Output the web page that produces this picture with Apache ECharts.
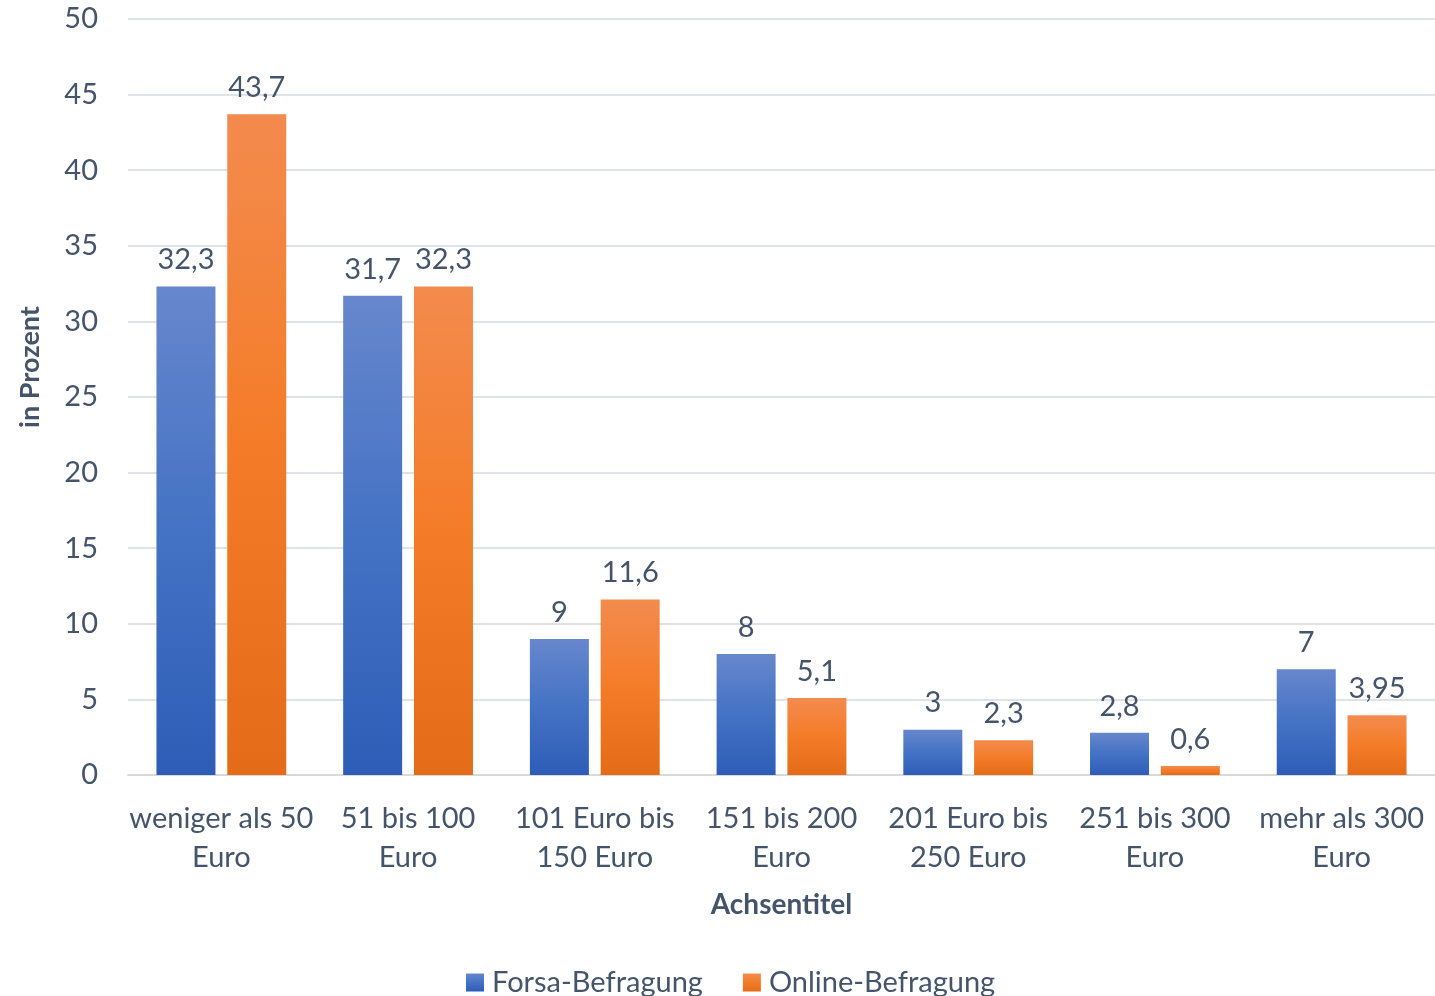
<!DOCTYPE html>
<html>
<head>
<meta charset="utf-8">
<script src="https://cdn.jsdelivr.net/npm/echarts@6/dist/echarts.min.js"></script>
<style>
  html, body { margin: 0; padding: 0; background: #ffffff; }
  #chart { width: 1435px; height: 996px; }
</style>
</head>
<body>
<div id="chart"></div>
<script>
// Monthly spending brackets
const categories = [
  'weniger als 50\nEuro',
  '51 bis 100\nEuro',
  '101 Euro bis\n150 Euro',
  '151 bis 200\nEuro',
  '201 Euro bis\n250 Euro',
  '251 bis 300\nEuro',
  'mehr als 300\nEuro'
];
const forsaValues = [32.3, 31.7, 9, 8, 3, 2.8, 7];
const onlineValues = [43.7, 32.3, 11.6, 5.1, 2.3, 0.6, 3.95];
const seriesNames = ['Forsa-Befragung', 'Online-Befragung'];

const textColor = '#44546a';
const fontFamily = 'Lato, "Open Sans", sans-serif';

function vGrad(top, mid, bottom) {
  return new echarts.graphic.LinearGradient(0, 0, 0, 1, [
    { offset: 0, color: top },
    { offset: 0.5, color: mid },
    { offset: 1, color: bottom }
  ]);
}

const labelFmt = p => String(p.value).replace('.', ',');

const chart = echarts.init(document.getElementById('chart'), null, { renderer: 'canvas' });
chart.setOption({
  backgroundColor: '#ffffff',
  animation: false,
  textStyle: { fontFamily: fontFamily, color: textColor },
  grid: {
    left: 128, right: 0, top: 19, bottom: 221,
    containLabel: false, outerBoundsMode: 'none'
  },
  legend: {
    bottom: -6,
    left: 461,
    itemWidth: 18,
    itemHeight: 18,
    itemGap: 40,
    icon: 'rect',
    textStyle: {
      fontSize: 29, color: textColor, fontFamily: fontFamily,
      padding: [0, 0, 0, 3]
    },
    data: seriesNames
  },
  xAxis: {
    type: 'category',
    data: categories,
    name: 'Achsentitel',
    nameLocation: 'middle',
    nameGap: 116,
    nameTextStyle: { fontSize: 28, fontWeight: 'bold', color: textColor, fontFamily: fontFamily },
    axisLine: { show: true, lineStyle: { color: '#d9d9d9', width: 2 } },
    axisTick: { show: false },
    axisLabel: {
      fontSize: 29, color: textColor, lineHeight: 39, margin: 24, interval: 0,
      fontFamily: fontFamily
    }
  },
  yAxis: {
    type: 'value',
    min: 0,
    max: 50,
    interval: 5,
    name: 'in Prozent',
    nameLocation: 'middle',
    nameGap: 84,
    nameRotate: 90,
    nameTextStyle: {
      fontSize: 27, fontWeight: 'bold', color: textColor, fontFamily: fontFamily,
      padding: [0, 0, 0, 60]
    },
    axisLine: { show: false },
    axisTick: { show: false },
    axisLabel: { fontSize: 29, color: textColor, margin: 30, fontFamily: fontFamily },
    splitLine: { lineStyle: { color: '#dfe2e6', width: 2 } }
  },
  series: [
    {
      name: seriesNames[0],
      type: 'bar',
      data: forsaValues,
      barWidth: 59,
      barGap: '20%',
      itemStyle: { color: vGrad('#6787cd', '#4472c4', '#2e5db7') },
      label: {
        show: true, position: 'top', distance: 12, fontSize: 29,
        color: textColor, formatter: labelFmt, fontFamily: fontFamily
      }
    },
    {
      name: seriesNames[1],
      type: 'bar',
      data: onlineValues,
      barWidth: 59,
      barGap: '20%',
      itemStyle: { color: vGrad('#f38b4e', '#f47c28', '#e46c19') },
      label: {
        show: true, position: 'top', distance: 12, fontSize: 29,
        color: textColor, formatter: labelFmt, fontFamily: fontFamily
      }
    }
  ]
});
</script>
</body>
</html>
